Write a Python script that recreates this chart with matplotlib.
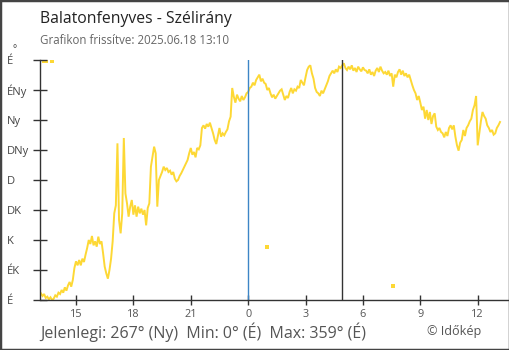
import numpy as np
import matplotlib
matplotlib.use("Agg")
import matplotlib.pyplot as plt
from matplotlib.patches import Rectangle

plt.rcParams['font.family'] = ['Open Sans', 'DejaVu Sans']

title = "Balatonfenyves - Szélirány"
subtitle = "Grafikon frissítve: 2025.06.18 13:10"
footer = "Jelenlegi: 267° (Ny)  Min: 0° (É)  Max: 359° (É)"
credit = "© Időkép"

# start time 13:10 (hours), 5-minute samples
start_hour = 13 + 10 / 60
step_hours = 5 / 60

# wind direction (degrees), one row per hour, 5-minute samples
direction = [
    10, 6, 9, 3, 5, 1, 4, 0, 2, 7, 5, 11,
    9, 15, 11, 19, 14, 22, 27, 20, 30, 48, 58, 52,
    60, 52, 62, 57, 68, 78, 90, 84, 96, 82, 88, 80,
    95, 84, 88, 70, 50, 40, 32, 45, 62, 88, 130, 142,
    235, 120, 100, 130, 243, 160, 145, 125, 140, 150, 128, 142,
    125, 140, 130, 137, 128, 135, 112, 138, 145, 200, 215, 230,
    220, 140, 180, 186, 192, 200, 195, 198, 192, 194, 188, 192,
    182, 178, 180, 186, 190, 195, 200, 205, 210, 220, 228, 218,
    222, 214, 228, 226, 232, 258, 262, 257, 264, 260, 266, 258,
    250, 240, 234, 246, 258, 245, 250, 247, 252, 256, 268, 275,
    318, 305, 296, 308, 302, 298, 306, 300, 304, 310, 312, 318,
    320, 326, 322, 330, 334, 338, 328, 332, 326, 324, 315, 318,
    310, 304, 308, 302, 306, 310, 314, 316, 308, 300, 306, 303,
    312, 318, 310, 316, 314, 320, 318, 330, 326, 322, 334, 345,
    350, 352, 340, 332, 318, 312, 310, 306, 314, 310, 316, 322,
    328, 336, 340, 344, 340, 346, 342, 350, 348, 352, 355, 348,
    345, 350, 346, 352, 344, 348, 342, 350, 346, 343, 349, 345,
    344, 340, 346, 338, 342, 336, 344, 348, 342, 350, 344, 340,
    342, 338, 344, 336, 340, 320, 338, 334, 342, 346, 338, 344,
    336, 340, 334, 338, 330, 322, 315, 310, 300, 306, 296, 285,
    290, 272, 285, 270, 282, 264, 276, 280, 260, 255, 258, 252,
    250, 244, 252, 246, 258, 262, 256, 262, 245, 232, 224, 236,
    240, 255, 246, 258, 262, 268, 272, 285, 292, 306, 232, 250,
    268, 282, 276, 272, 262, 258, 252, 255, 248, 250, 258, 262,
    267,
]

# isolated readings drawn as single dots
dot_hours = [13.35, 13.43, 13.72, 24.98, 31.57]
dot_dirs = [359, 359, 359, 80, 21]

ytick_vals = [0, 45, 90, 135, 180, 225, 270, 315, 360]
ytick_labels = ["É", "ÉK", "K", "DK", "D", "DNy", "Ny", "ÉNy", "É"]
xtick_vals = [15, 18, 21, 24, 27, 30, 33, 36]
xtick_labels = ["15", "18", "21", "0", "3", "6", "9", "12"]
midnight = 24
marker_time = 28.92

W, H = 510, 350
fig = plt.figure(figsize=(W / 100, H / 100), dpi=100)
ax_left, ax_right, ax_top, ax_bottom = 40.5, 509, 60, 300
ax = fig.add_axes([ax_left / W, 1 - ax_bottom / H, (ax_right - ax_left) / W, (ax_bottom - ax_top) / H])

hours = start_hour + step_hours * np.arange(len(direction))
line_color = '#fdd835'
ax.plot(hours, direction, color=line_color, lw=1.4, solid_joinstyle='miter')
ax.scatter(dot_hours, dot_dirs, s=5, marker='s', color=line_color, linewidths=0)

ax.axvline(midnight, color='#3d85c6', lw=1)
ax.axvline(marker_time, color='#333333', lw=1)

x0 = 15 - (76 - ax_left) / 19.13
x1 = 36 + (ax_right - 477.7) / 19.13
ax.set_xlim(x0, x1)
ax.set_ylim(0, 360)

for s in ['top', 'right']:
    ax.spines[s].set_visible(False)
for s in ['left', 'bottom']:
    ax.spines[s].set_color('#333333')
    ax.spines[s].set_linewidth(1)

ax.set_yticks(ytick_vals)
ax.set_yticklabels(ytick_labels)
ax.set_xticks(xtick_vals)
ax.set_xticklabels(xtick_labels)
ax.tick_params(axis='y', direction='inout', length=9.4, width=1, color='#333333',
               labelsize=8, labelcolor='#444444', pad=19.5)
ax.tick_params(axis='x', direction='inout', length=6.5, width=1, color='#333333',
               labelsize=7.8, labelcolor='#555555', pad=3)
for lab in ax.get_yticklabels():
    lab.set_horizontalalignment('left')
ax.set_clip_on(False)

def ftext(x, y, s, **kw):
    fig.text(x / W, 1 - y / H, s, **kw)

ftext(40, 19, title, fontsize=11.3, color='#222222', va='center', ha='left')
ftext(40, 41, subtitle, fontsize=8.3, color='#666666', va='center', ha='left')
ftext(14.5, 50, "°", fontsize=7, color='#444444', va='center', ha='center')
ftext(40, 332, footer, fontsize=11.5, color='#555555', va='center', ha='left')
ftext(481, 331, credit, fontsize=9.1, color='#555555', va='center', ha='right')

fig.patches.append(Rectangle((0, 0), 1, 1, transform=fig.transFigure, fill=False,
                             edgecolor='#444444', lw=2.5))

fig.savefig('out.png', dpi=100)
